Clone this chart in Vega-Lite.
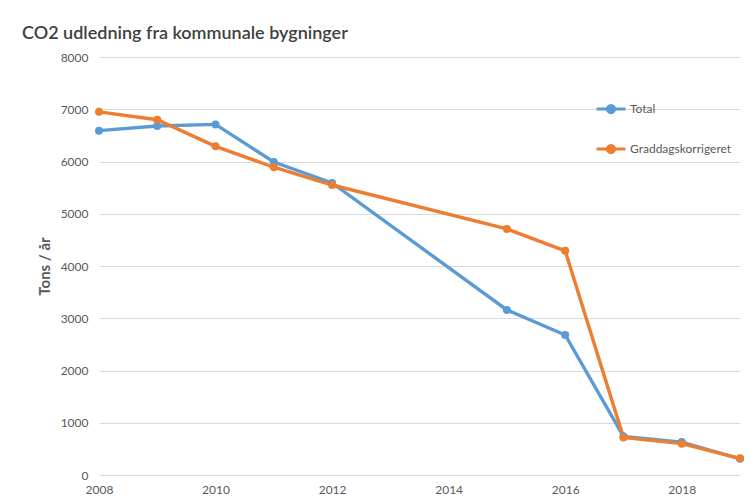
{
  "$schema": "https://vega.github.io/schema/vega-lite/v6.json",
  "autosize": "none",
  "width": 641,
  "height": 418,
  "padding": {"left": 99, "top": 57, "right": 16, "bottom": 24},
  "background": "white",
  "title": {
    "text": "CO2 udledning fra kommunale bygninger",
    "anchor": "start",
    "frame": "group",
    "font": "Lato",
    "fontSize": 18,
    "fontWeight": 600,
    "color": "#404040",
    "dx": -77,
    "dy": 20,
    "offset": 14,
    "baseline": "alphabetic"
  },
  "data": {
    "values": [
      {"year": 2008, "value": 6590, "series": "Total"},
      {"year": 2009, "value": 6680, "series": "Total"},
      {"year": 2010, "value": 6710, "series": "Total"},
      {"year": 2011, "value": 5990, "series": "Total"},
      {"year": 2012, "value": 5590, "series": "Total"},
      {"year": 2015, "value": 3160, "series": "Total"},
      {"year": 2016, "value": 2680, "series": "Total"},
      {"year": 2017, "value": 740, "series": "Total"},
      {"year": 2018, "value": 630, "series": "Total"},
      {"year": 2019, "value": 310, "series": "Total"},
      {"year": 2008, "value": 6950, "series": "Graddagskorrigeret"},
      {"year": 2009, "value": 6800, "series": "Graddagskorrigeret"},
      {"year": 2010, "value": 6290, "series": "Graddagskorrigeret"},
      {"year": 2011, "value": 5890, "series": "Graddagskorrigeret"},
      {"year": 2012, "value": 5550, "series": "Graddagskorrigeret"},
      {"year": 2015, "value": 4710, "series": "Graddagskorrigeret"},
      {"year": 2016, "value": 4290, "series": "Graddagskorrigeret"},
      {"year": 2017, "value": 720, "series": "Graddagskorrigeret"},
      {"year": 2018, "value": 600, "series": "Graddagskorrigeret"},
      {"year": 2019, "value": 320, "series": "Graddagskorrigeret"}
    ]
  },
  "encoding": {
    "x": {
      "field": "year",
      "type": "quantitative",
      "scale": {"domain": [2008, 2019], "nice": false, "zero": false},
      "axis": {
        "values": [2008, 2010, 2012, 2014, 2016, 2018],
        "format": "d",
        "title": null,
        "grid": false,
        "domain": false,
        "ticks": false,
        "labelPadding": 9,
        "labelFont": "Lato",
        "labelFontSize": 12,
        "labelColor": "#595959",
        "labelFlush": false
      }
    },
    "y": {
      "field": "value",
      "type": "quantitative",
      "scale": {"domain": [0, 8000], "nice": false},
      "axis": {
        "values": [0, 1000, 2000, 3000, 4000, 5000, 6000, 7000, 8000],
        "format": "d",
        "title": "Tons / år",
        "titleFont": "Lato",
        "titleFontSize": 15,
        "titleFontWeight": 700,
        "titleColor": "#595959",
        "titleX": -55,
        "titleY": 209,
        "titleAngle": -90,
        "titleAlign": "center",
        "titleBaseline": "middle",
        "domain": false,
        "ticks": false,
        "labelPadding": 11,
        "labelFont": "Lato",
        "labelFontSize": 12,
        "labelColor": "#595959",
        "gridColor": "#D9D9D9",
        "gridWidth": 1
      }
    },
    "color": {
      "field": "series",
      "type": "nominal",
      "sort": ["Total", "Graddagskorrigeret"],
      "scale": {"domain": ["Total", "Graddagskorrigeret"], "range": ["#5B9BD5", "#ED7D31"]},
      "legend": {
        "orient": "none",
        "legendX": 496,
        "legendY": 36,
        "title": null,
        "direction": "vertical",
        "rowPadding": 14,
        "symbolType": "M-1,0L1,0M-0.25,0A0.25,0.25 0 1,0 0.25,0A0.25,0.25 0 1,0 -0.25,0",
        "symbolSize": 841,
        "symbolStrokeWidth": 3,
        "labelFont": "Lato",
        "labelFontSize": 12,
        "labelColor": "#595959",
        "labelOffset": 3,
        "encode": {"symbols": {"update": {"fill": {"scale": "color", "field": "value"}}}}
      }
    }
  },
  "layer": [
    {"mark": {"type": "line", "strokeWidth": 3.4}},
    {"mark": {"type": "point", "filled": true, "size": 64, "opacity": 1}}
  ],
  "config": {"view": {"stroke": null}}
}
